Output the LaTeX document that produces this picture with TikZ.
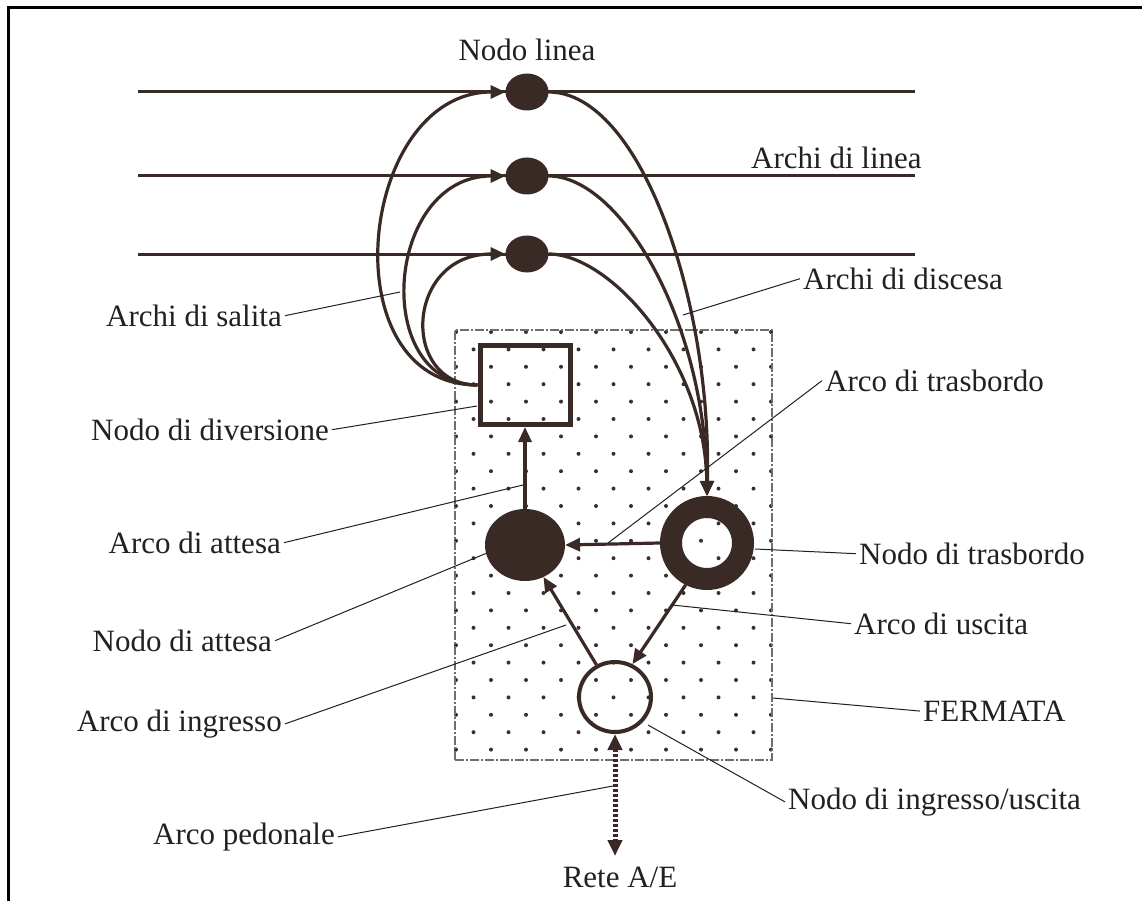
\documentclass[tikz,border=0pt]{standalone}
\usepackage{fontspec}
\setmainfont{Liberation Serif}
\usetikzlibrary{shapes.geometric,arrows.meta}
\definecolor{ink}{RGB}{58,42,38}
\definecolor{txt}{RGB}{34,32,32}
\definecolor{dotc}{RGB}{55,48,46}
\begin{document}
\begin{tikzpicture}[x=1pt,y=-1pt,
  lbl/.style={font=\fontsize{31}{36}\selectfont, text=txt, inner sep=3pt},
  lead/.style={draw=txt, line width=1pt},
  tip/.style={-{Triangle[length=15pt,width=13pt]}},
  arcline/.style={draw=ink, line width=3.2pt, tip},
  hline/.style={draw=ink, line width=3pt},
  linenode/.style={ellipse, fill=ink, minimum width=43pt, minimum height=37pt, inner sep=0pt, outer sep=0pt},
  stopbox/.style={draw=txt!65, line width=1.2pt, dash pattern=on 9pt off 2pt on 2pt off 2pt, minimum width=317pt, minimum height=430pt, inner sep=0pt},
]
\useasboundingbox (0,0) rectangle (1142,901);
\fill[white] (0,0) rectangle (1142,901);
% frame
\draw[black, line width=3pt] (1142,8) -- (8,8) -- (8,901);

% dotted stop area
\foreach \k in {0,...,24}{
  \pgfmathsetmacro{\yy}{332+17.4*\k}
  \pgfmathsetmacro{\xo}{456+17.5*mod(\k,2)}
  \foreach \j in {0,...,9}{
    \pgfmathsetmacro{\xx}{\xo+35*\j}
    \ifdim \xx pt<773pt \fill[dotc] (\xx,\yy) circle[radius=2pt];\fi
  }
}
\node[stopbox] (fer) at (613.5,545) {};

% line arcs
\coordinate (a1) at (138,92);  \coordinate (b1) at (915,92);
\coordinate (a2) at (138,176); \coordinate (b2) at (915,176);
\coordinate (a3) at (138,254); \coordinate (b3) at (915,254);
\draw[hline] (a1) -- (b1);
\draw[hline] (a2) -- (b2);
\draw[hline] (a3) -- (b3);

% nodes
\node[linenode] (n1) at (527,92) {};
\node[linenode] (n2) at (527,176) {};
\node[linenode] (n3) at (527,254) {};
\node[rectangle, draw=ink, line width=5pt, minimum width=90pt, minimum height=79pt, inner sep=0pt] (sq) at (525,385) {};
\node[ellipse, fill=ink, minimum width=80pt, minimum height=72pt, inner sep=0pt, outer sep=0pt] (wt) at (525,545) {};
\node[circle, draw=ink, line width=22pt, minimum size=72pt, inner sep=0pt] (rg) at (707,543) {};
\node[ellipse, draw=ink, line width=4pt, minimum width=72pt, minimum height=70pt, inner sep=0pt] (io) at (615,697) {};

% boarding arcs
\draw[arcline] (sq.west) .. controls (328,385) and (358,92) .. (n1.west);
\draw[arcline] (sq.west) .. controls (370,385) and (385,176) .. (n2.west);
\draw[arcline] (sq.west) .. controls (400,385) and (405,254) .. (n3.west);
% alighting arcs
\draw[arcline] (n1.east) .. controls (640,92) and (712,300) .. (rg.north);
\draw[arcline] (n2.east) .. controls (620,176) and (705,320) .. (rg.north);
\draw[arcline] (n3.east) .. controls (610,254) and (705,360) .. (rg.north);
% stop arcs
\draw[arcline] (wt.north) -- (sq.south);
\draw[arcline] (rg.west) -- (wt.east);
\draw[arcline] (io.120) -- (wt.300);
\draw[arcline] (rg.243) -- (io.62);
% pedestrian arc
\coordinate (rete) at (615,856);
\draw[ink, line width=5pt, dash pattern=on 3pt off 2pt, {Triangle[length=16pt,width=14pt]}-{Triangle[length=16pt,width=14pt]}] (io.south) -- (rete);

% labels
\node[lbl, anchor=mid] (tNL) at (527,58) {Nodo linea};
\node[lbl, anchor=mid west] (tAL) at (748,166) {Archi di linea};
\node[lbl, anchor=mid east] (tAS) at (285,324) {Archi di salita};
\node[lbl, anchor=mid west] (tAD) at (800,287) {Archi di discesa};
\node[lbl, anchor=mid east] (tND) at (332,438) {Nodo di diversione};
\node[lbl, anchor=mid west] (tAT) at (822,389) {Arco di trasbordo};
\node[lbl, anchor=mid west] (tNT) at (856,562) {Nodo di trasbordo};
\node[lbl, anchor=mid east] (tAA) at (284,551) {Arco di attesa};
\node[lbl, anchor=mid east] (tNA) at (275,649) {Nodo di attesa};
\node[lbl, anchor=mid west] (tAU) at (851,632) {Arco di uscita};
\node[lbl, anchor=mid west] (tFE) at (920,719) {FERMATA};
\node[lbl, anchor=mid east] (tAI) at (285,729) {Arco di ingresso};
\node[lbl, anchor=mid west] (tNI) at (785,807) {Nodo di ingresso/uscita};
\node[lbl, anchor=mid east] (tAP) at (338,842) {Arco pedonale};
\node[lbl, anchor=mid] (tRE) at (620,885) {Rete A/E};

% leader targets
\coordinate (cAS) at (400,292);
\coordinate (cAD) at (683,315);
\coordinate (cND) at (477,406);
\coordinate (cAT) at (608,543);
\coordinate (cNT) at (755,549);
\coordinate (cAA) at (523,485);
\coordinate (cNA) at (487,553);
\coordinate (cAU) at (672,605);
\coordinate (cFE) at (773,698);
\coordinate (cAI) at (566,625);
\coordinate (cNI) at (648,725);
\coordinate (cAP) at (613,786);

\draw[lead] (tAS.east) -- (cAS);
\draw[lead] (tAD.west) -- (cAD);
\draw[lead] (tND.east) -- (cND);
\draw[lead] (tAT.west) -- (cAT);
\draw[lead] (tNT.west) -- (cNT);
\draw[lead] (tAA.east) -- (cAA);
\draw[lead] (tNA.east) -- (cNA);
\draw[lead] (tAU.west) -- (cAU);
\draw[lead] (tFE.west) -- (cFE);
\draw[lead] (tAI.east) -- (cAI);
\draw[lead] (tNI.west) -- (cNI);
\draw[lead] (tAP.east) -- (cAP);
\end{tikzpicture}
\end{document}
